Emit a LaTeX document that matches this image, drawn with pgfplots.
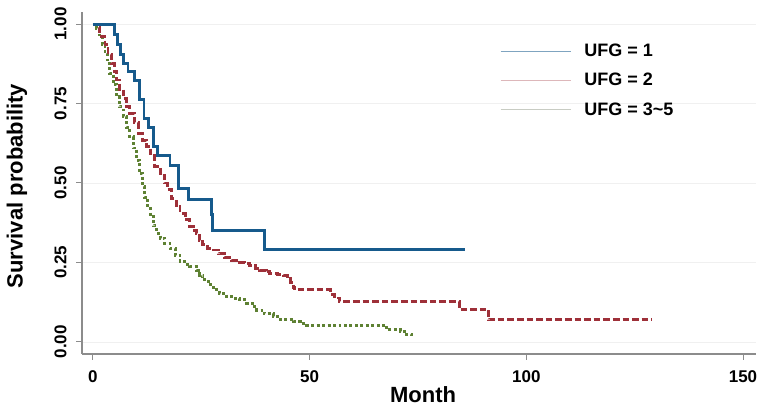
\documentclass[border=0pt]{standalone}
\usepackage{fontspec}
\setmainfont{Liberation Sans}
\newfontfamily\lsbold{Liberation Sans Bold}
\usepackage{pgfplots}
\pgfplotsset{compat=1.18}
\definecolor{kmblue}{HTML}{165A8C}
\definecolor{kmred}{HTML}{9E3039}
\definecolor{kmgreen}{HTML}{5E8133}
\definecolor{axisgray}{HTML}{8C8C8C}
\begin{document}
\begin{tikzpicture}
\begin{axis}[
  scale only axis, width=505.5pt, height=256.5pt,
  xmin=-2.5, xmax=153, ymin=-0.038, ymax=1.038,
  axis x line*=bottom, axis y line*=left,
  axis line style={draw=axisgray, line width=0.9pt},
  tick align=outside, major tick length=4.5pt,
  every tick/.style={draw=axisgray, line width=0.75pt},
  xtick={0,50,100,150}, ytick={0,0.25,0.5,0.75,1},
  ymajorgrids, grid style={draw=gray!12, line width=0.5pt},
  /pgf/number format/assume math mode=true,
  tick label style={font=\lsbold\fontsize{12.75}{14}\selectfont},
  yticklabel style={xshift=-3.5pt, rotate=90, anchor=south, /pgf/number format/.cd, fixed, fixed zerofill, precision=2},
  xticklabel style={anchor=north, yshift=-4.5pt},
  xlabel={Month}, ylabel={Survival probability},
  every axis x label/.style={at={(rel axis cs:0.506,-0.12)}, anchor=center,
    font=\lsbold\fontsize{16.5}{18}\selectfont},
  every axis y label/.style={at={(rel axis cs:-0.0964,0.491)}, rotate=90, anchor=center,
    font=\lsbold\fontsize{16.5}{18}\selectfont},
  legend style={draw=none, fill=none, at={(rel axis cs:0.614,0.915)}, anchor=north west,
    font=\lsbold\fontsize{13.5}{15}\selectfont, row sep=11pt,
    nodes={inner sep=0pt}, /tikz/every odd column/.style={column sep=10pt}},
  legend cell align=left,
  legend image code/.code={\draw[#1] (0pt,0pt) -- (52.5pt,0pt);},
  const plot,
]
\addlegendimage{draw=kmblue!55!white, line width=0.7pt}
\addlegendentry{UFG = 1}
\addlegendimage{draw=kmred!35!white, line width=0.7pt}
\addlegendentry{UFG = 2}
\addlegendimage{draw=kmgreen!30!gray!40!white, line width=0.7pt}
\addlegendentry{UFG = 3\textasciitilde 5}

% UFG = 3~5
\addplot[forget plot, draw=kmgreen, line width=2.2pt, dash pattern=on 2.2pt off 1.9pt] coordinates {
(0,1) (0.8,0.985) (1.6,0.96) (2.2,0.935) (2.8,0.908) (3.4,0.875) (3.9,0.845)
(4.7,0.81) (5.5,0.771) (6.2,0.74) (7.0,0.708) (7.8,0.675) (8.5,0.645)
(9.3,0.61) (10.1,0.572) (10.8,0.53) (11.4,0.49) (11.9,0.455) (12.6,0.42)
(13.2,0.394) (14.0,0.365) (14.7,0.342) (15.5,0.326) (16.6,0.31) (17.8,0.295)
(19.0,0.272) (20.1,0.253) (21.2,0.243) (22.4,0.237) (24.0,0.226) (24.7,0.21)
(25.4,0.195) (26.6,0.18) (27.8,0.164) (29.3,0.152) (30.9,0.142) (32.4,0.137)
(33.9,0.132) (35.5,0.122) (36.8,0.112) (37.8,0.10) (39.5,0.088) (41.6,0.08)
(43.2,0.071) (46.2,0.064) (48.0,0.058) (49.3,0.053) (67.8,0.038) (70.9,0.032)
(72.0,0.022) (73.6,0.017)
};
% UFG = 2
\addplot[forget plot, draw=kmred, line width=2.2pt, dash pattern=on 5pt off 2.2pt] coordinates {
(0,1) (1.0,0.99) (1.5,0.975) (2.0,0.96) (2.8,0.935) (3.5,0.905) (4.3,0.876)
(5.0,0.85) (5.5,0.824) (6.2,0.795) (7.0,0.765) (7.8,0.74) (8.5,0.72)
(9.5,0.69) (10.5,0.656) (11.4,0.635) (12.4,0.614) (13.3,0.585) (14.3,0.553)
(15.5,0.525) (16.5,0.50) (17.2,0.48) (18.2,0.45) (19.2,0.425) (20.1,0.405)
(21.3,0.385) (22.4,0.363) (23.2,0.35) (23.9,0.34) (24.6,0.32) (25.4,0.305)
(26.5,0.295) (27.8,0.289) (29.0,0.277) (30.4,0.265) (32.0,0.257) (33.9,0.251)
(35.1,0.247) (36.2,0.240) (37.5,0.232) (38.5,0.226) (40.0,0.220) (40.8,0.215)
(42.5,0.212) (43.9,0.209) (44.8,0.198) (45.5,0.188) (46.2,0.172) (46.6,0.164)
(54.8,0.150) (55.8,0.138) (56.8,0.127) (84.5,0.103) (91.2,0.069) (128.9,0.069)
};
% UFG = 1
\addplot[forget plot, draw=kmblue, line width=2.2pt] coordinates {
(0,1) (5.1,0.968) (5.6,0.935) (6.4,0.903) (7.0,0.876) (8.1,0.85) (9.5,0.822)
(10.7,0.763) (11.8,0.703) (12.9,0.674) (13.9,0.614) (14.9,0.586) (17.8,0.555)
(19.8,0.483) (22.0,0.448) (27.4,0.40) (27.7,0.35) (39.7,0.292) (85.8,0.292)
};
\coordinate (bl) at (rel axis cs:-0.1217,-0.1637);
\coordinate (tr) at (rel axis cs:1.0089,1.035);
\end{axis}
\pgfresetboundingbox
\useasboundingbox (bl) rectangle (tr);
\end{tikzpicture}
\end{document}
